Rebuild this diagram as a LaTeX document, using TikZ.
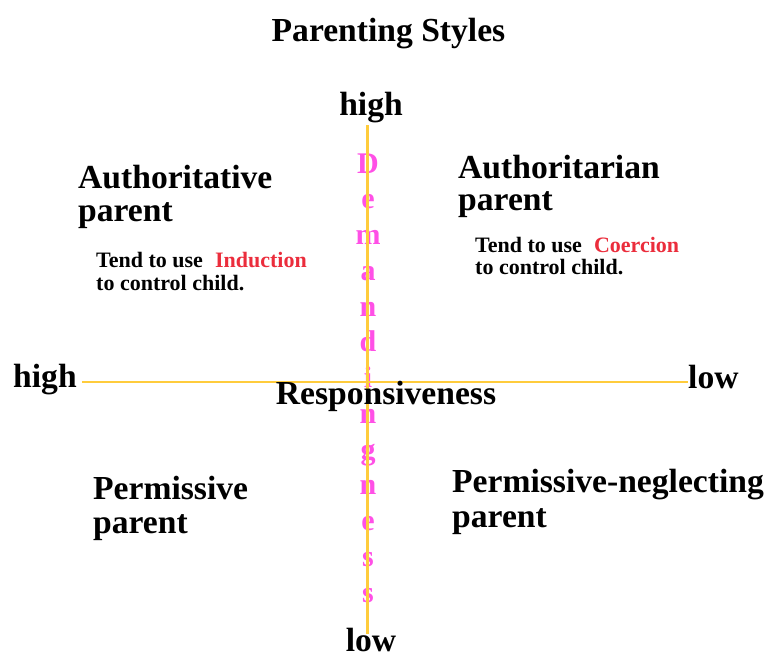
\documentclass[tikz,border=0pt]{standalone}
\usepackage{fontspec}
\setmainfont{Liberation Serif}
\definecolor{axisyellow}{RGB}{255,204,60}
\definecolor{demandpink}{RGB}{255,80,230}
\definecolor{methodred}{RGB}{235,45,60}
\tikzset{
  bigtext/.style={inner sep=0pt, anchor=base west, font=\fontsize{33.6}{34}\selectfont\bfseries},
  bigc/.style={inner sep=0pt, anchor=base, font=\fontsize{33.6}{34}\selectfont\bfseries},
  smalltext/.style={inner sep=0pt, anchor=base west, font=\fontsize{22}{22}\selectfont\bfseries},
  letter/.style={inner sep=0pt, anchor=base, text=demandpink, font=\fontsize{30}{30}\selectfont\bfseries},
  axis/.style={draw=axisyellow, line width=2.6pt}
}
\begin{document}
\begin{tikzpicture}[x=1pt,y=-1pt]
\useasboundingbox (0,0) rectangle (767,656);
% title
\node[bigc] (title) at (388.5,41) {Parenting Styles};
% demandingness letters
\foreach \l [count=\i from 0] in {D,e,m,a,n,d,i,n,g,n,e,s,s} {
  \node[letter] (dl\i) at (368,{173+35.75*\i}) {\l};
}
% axes
\coordinate (vtop) at (367.5,125);
\coordinate (vbot) at (367.5,634);
\coordinate (hleft) at (82,382);
\coordinate (hright) at (688,382);
\draw[axis] (vtop) -- (vbot);
\draw[axis] (hleft) -- (hright);
% axis labels
\node[bigc] (dhigh) at (371,115) {high};
\node[bigc] (dlow) at (371,651) {low};
\node[bigtext] (rhigh) at (13,387) {high};
\node[bigtext] (rlow) at (688,388) {low};
\node[bigc] (resp) at (386,404) {Responsiveness};
% quadrants
\node[bigtext] (auth1) at (78,188) {Authoritative};
\node[bigtext] (auth2) at (78,221) {parent};
\node[smalltext] (auths1) at (96,267) {Tend to use\hspace{0.3em} \textcolor{methodred}{Induction}};
\node[smalltext] (auths2) at (96,290) {to control child.};
\node[bigtext] (autr1) at (458,178) {Authoritarian};
\node[bigtext] (autr2) at (458,210) {parent};
\node[smalltext] (autrs1) at (475,252) {Tend to use\hspace{0.3em} \textcolor{methodred}{Coercion}};
\node[smalltext] (autrs2) at (475,274) {to control child.};
\node[bigtext] (perm1) at (93,499) {Permissive};
\node[bigtext] (perm2) at (93,533) {parent};
\node[bigtext] (negl1) at (452,492) {Permissive-neglecting};
\node[bigtext] (negl2) at (452,527) {parent};
\end{tikzpicture}
\end{document}
